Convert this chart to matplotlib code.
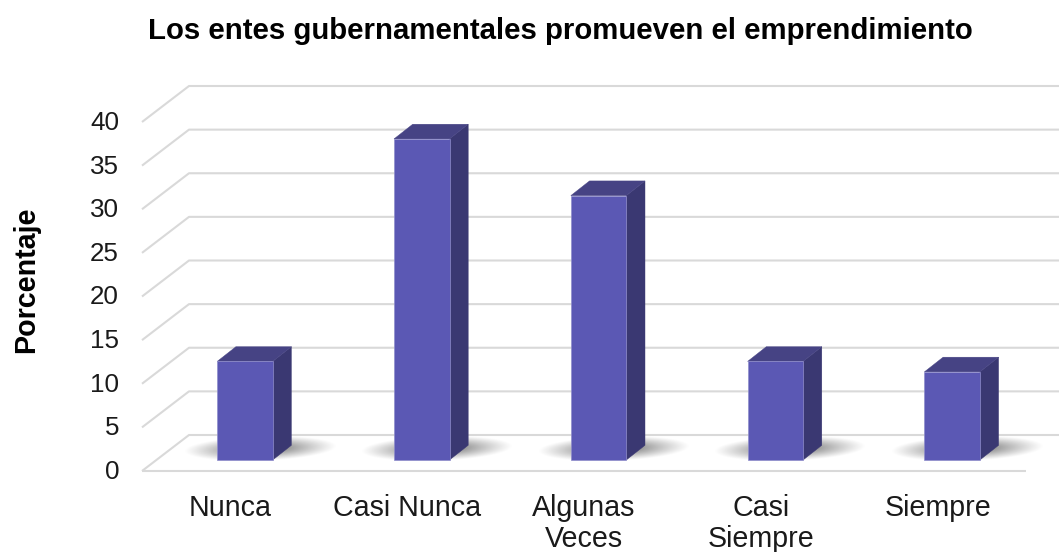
import numpy as np
import matplotlib
matplotlib.use("Agg")
import matplotlib.pyplot as plt
from matplotlib.patches import Polygon

plt.rcParams['font.family'] = ['Liberation Sans', 'DejaVu Sans']

categories = ["Nunca", "Casi Nunca", "Algunas\nVeces", "Casi\nSiempre", "Siempre"]
values = [11.3, 36.8, 30.3, 11.3, 10.1]
yticks = [0, 5, 10, 15, 20, 25, 30, 35, 40]
title = "Los entes gubernamentales promueven el emprendimiento"
ylabel = "Porcentaje"

W, H = 1059, 552
fig = plt.figure(figsize=(W/100, H/100), dpi=100)
L, R, B, T = 142, 1026, 471, 122
ax = fig.add_axes([L/W, 1-B/H, (R-L)/W, (B-T)/H])
ax.set_xlim(-0.5, 4.5)
ax.set_ylim(0, 40)
ax.axis('off')

px_x = 5/(R-L)
px_y = 40/(B-T)
DX, DY = 47*px_x, 36*px_y
x0, x1 = -0.5, 4.5
grid = '#d9d9d9'
kw = dict(color=grid, lw=1.5, clip_on=False, zorder=1, solid_capstyle='butt')
for v in yticks:
    ax.plot([x0, x0+DX, x1+DX], [v, v+DY, v+DY], **kw)
ax.plot([x0, x1], [0, 0], **kw)

face, side, top = '#5b58b4', '#3a3872', '#464384'
bw = 55.5*px_x
bdx, bdy = 18.7*px_x, 14.7*px_y
ox, oy = -13.2*px_x, 11*px_y

# soft floor shadow, slightly sheared along the floor
sw, sh = 152*px_x, 25*px_y
gx = np.linspace(-1, 1, 240)
gy = np.linspace(-1, 1, 80)
X, Y = np.meshgrid(gx, gy)
Ys = Y - 0.2*X
A = np.clip(1 - (X**2 + Ys**2)**0.5, 0, 1)**1.1 * 1.0
A = np.clip(A, 0, 0.8)
rgba = np.zeros(A.shape + (4,))
rgba[..., :3] = 0.35
rgba[..., 3] = A

for i, v in enumerate(values):
    xl = i + ox
    xr = xl + bw
    yb = oy
    yt = oy + v
    cx = xl + bw/2 + 15*px_x
    cy = oy + 12*px_y
    ax.imshow(rgba, extent=[cx-sw/2, cx+sw/2, cy-sh/2, cy+sh/2], aspect='auto',
              origin='lower', zorder=2, clip_on=False, interpolation='bilinear')
    ax.add_patch(Polygon([(xl, yb), (xr, yb), (xr, yt), (xl, yt)], closed=True, fc=face,
                         ec='#8f8dcb', lw=0.5, zorder=4, clip_on=False))
    ax.add_patch(Polygon([(xr, yb), (xr+bdx, yb+bdy), (xr+bdx, yt+bdy), (xr, yt)], closed=True,
                         fc=side, ec=side, lw=0.3, zorder=3, clip_on=False))
    ax.add_patch(Polygon([(xl, yt), (xr, yt), (xr+bdx, yt+bdy), (xl+bdx, yt+bdy)], closed=True,
                         fc=top, ec=top, lw=0.3, zorder=3, clip_on=False))
ax.set_xlim(-0.5, 4.5)
ax.set_ylim(0, 40)

tc = '#1a1a1a'
for v in yticks:
    ax.annotate(str(v), (x0, v), xytext=(119-L, -1), textcoords='offset pixels', ha='right',
                va='center', fontsize=18.7, color=tc, annotation_clip=False)
for i, c in enumerate(categories):
    ax.annotate(c, (i, 0), xytext=(0, -23), textcoords='offset pixels', ha='center', va='top',
                fontsize=20.6, color=tc, annotation_clip=False, linespacing=1.12)

fig.text(560.5/W, 1-31/H, title, ha='center', va='center', fontsize=21.2, fontweight='bold', color='black')
fig.text(26/W, 1-280/H, ylabel, ha='center', va='center', rotation=90, fontsize=20.6, fontweight='bold', color='black')

fig.savefig('out.png', dpi=100, facecolor='white')
